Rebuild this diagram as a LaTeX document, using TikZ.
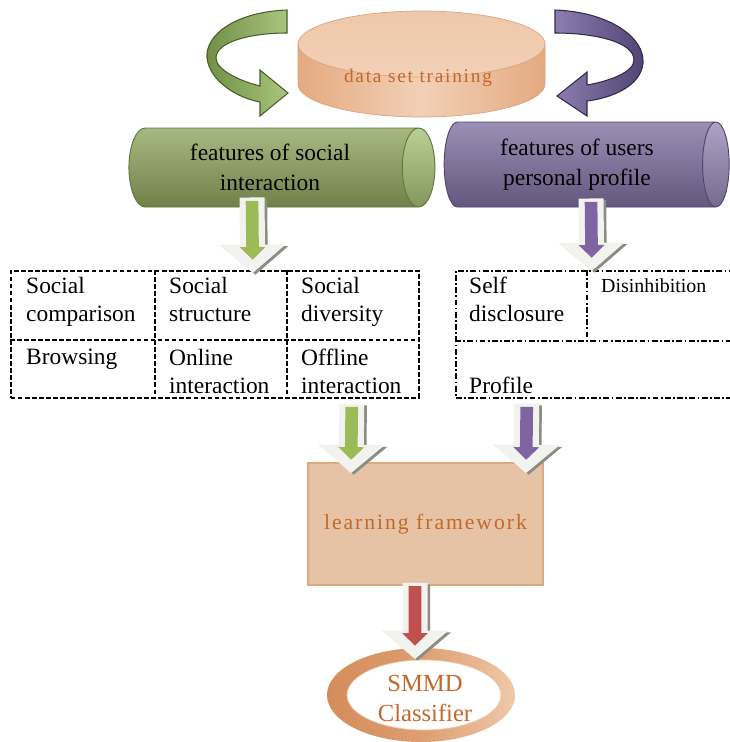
\documentclass[tikz,border=0pt]{standalone}
\usepackage{fontspec}
\setmainfont{Liberation Serif}
\newfontfamily\trackedserif[LetterSpace=9]{Liberation Serif}
\usetikzlibrary{shapes.geometric,arrows.meta,positioning}

\definecolor{gbody}{RGB}{143,166,94}
\definecolor{gend}{RGB}{168,194,120}
\definecolor{gedge}{RGB}{95,120,60}
\definecolor{pbody}{RGB}{128,112,162}
\definecolor{pend}{RGB}{152,137,182}
\definecolor{pedge}{RGB}{82,70,112}
\definecolor{bendgreendark}{RGB}{112,142,70}
\definecolor{bendgreenlight}{RGB}{170,198,126}
\definecolor{bendgreenline}{RGB}{70,95,40}
\definecolor{bendpurplelight}{RGB}{140,126,176}
\definecolor{bendpurpledark}{RGB}{80,68,115}
\definecolor{bendpurpleline}{RGB}{50,42,75}
\definecolor{arrgreen}{RGB}{155,187,89}
\definecolor{arrpurple}{RGB}{128,100,162}
\definecolor{arrred}{RGB}{192,80,77}
\definecolor{hollow}{RGB}{242,242,238}
\definecolor{hshadow}{RGB}{140,140,130}
\definecolor{diskside}{RGB}{228,170,128}
\definecolor{disklight}{RGB}{242,208,182}
\definecolor{disktop}{RGB}{238,200,170}
\definecolor{diskedge}{RGB}{218,165,128}
\definecolor{boxfill}{RGB}{230,195,165}
\definecolor{boxedge}{RGB}{222,170,130}
\definecolor{ringdark}{RGB}{212,140,90}
\definecolor{ringlight}{RGB}{240,200,168}
\definecolor{txtbrown}{RGB}{196,104,44}

\tikzstyle{feature} = [cylinder, cylinder uses custom fill, line width=0.8pt,
  align=center, text=black, font=\fontsize{20}{25.5}\selectfont,
  path picture={\shade[top color=white, bottom color=black, fill opacity=0.22]
    (path picture bounding box.north west) rectangle (path picture bounding box.south east);}]
\tikzstyle{cell} = [anchor=north west, align=left, inner sep=0pt, font=\fontsize{20}{24}\selectfont]
\tikzstyle{grid} = [draw, line width=1.3pt, inner sep=0pt, anchor=north west]
\tikzstyle{social dash} = [dash pattern=on 4pt off 2pt, line width=1.3pt]
\tikzstyle{profile dash} = [dash pattern=on 5pt off 2pt on 1.5pt off 2pt, line width=1.3pt]
\tikzset{
  hollow arrow/.style={
    -{Triangle[width=1.95cm,length=0.85cm]}, line width=0.75cm, draw=hollow,
    preaction={draw=hshadow, -{Triangle[width=1.95cm,length=0.85cm]}, line width=0.75cm,
               transform canvas={shift={(0.08cm,-0.05cm)}}}, % shadow
    postaction={draw=#1, -{Triangle[width=0.75cm,length=0.38cm]}, line width=0.38cm,
                shorten <=0.1cm, shorten >=0.4cm}, % coloured core
  }
}

\begin{document}
\begin{tikzpicture}[x=0.03cm,y=0.03cm]
  \useasboundingbox (0,0) rectangle (730,-742);

  %%%%%%%%%%%%%%%%%%%%%%%%%%%%%%%%%%%%%%%%%%%%%%%%%%%%%%%%%%%%%%
  %                    DATA SET TRAINING                       %
  %%%%%%%%%%%%%%%%%%%%%%%%%%%%%%%%%%%%%%%%%%%%%%%%%%%%%%%%%%%%%%

  \shade[left color=diskside, right color=diskside, middle color=disklight, draw=diskedge, line width=0.6pt]
    (298,-44) -- (298,-84) arc[start angle=180, end angle=360, x radius=3.705cm, y radius=0.99cm]
    -- (545,-44) -- cycle;
  \shade[top color=disktop, bottom color=disklight, draw=diskedge, line width=0.6pt]
    (421.5,-44) ellipse [x radius=3.705cm, y radius=0.99cm];
  \node[font=\trackedserif\fontsize{16.5}{19}\selectfont, text=txtbrown] (data-set) at (418,-78) {data set training};

  % curved arrows round the data set
  \shade[left color=bendgreendark, right color=bendgreenlight, draw=bendgreenline, line width=0.9pt]
    (287,-10) .. controls (235,-12) and (205,-35) .. (207,-58)
    .. controls (210,-82) and (238,-98) .. (260,-102)
    -- (260,-116) -- (288,-93) -- (260,-70) -- (260,-86)
    .. controls (240,-81) and (216,-70) .. (216,-58)
    .. controls (216,-42) and (250,-33) .. (287,-33) -- cycle;
  \shade[left color=bendpurplelight, right color=bendpurpledark, draw=bendpurpleline, line width=0.9pt]
    (555,-10) .. controls (610,-12) and (645,-38) .. (643,-63)
    .. controls (641,-86) and (612,-98) .. (587,-101)
    -- (587,-116) -- (557,-96) -- (587,-72) -- (587,-85)
    .. controls (610,-81) and (634,-72) .. (634,-60)
    .. controls (634,-42) and (595,-33) .. (555,-33) -- cycle;

  %%%%%%%%%%%%%%%%%%%%%%%%%%%%%%%%%%%%%%%%%%%%%%%%%%%%%%%%%%%%%%
  %                    FEATURE CYLINDERS                       %
  %%%%%%%%%%%%%%%%%%%%%%%%%%%%%%%%%%%%%%%%%%%%%%%%%%%%%%%%%%%%%%

  \node[feature, draw=gedge, cylinder body fill=gbody, cylinder end fill=gend,
    aspect=0.6, minimum height=9.18cm, minimum width=2.37cm] (social-features) at (270,-167.5)
    {features of social\\interaction};
  \node[feature, draw=pedge, cylinder body fill=pbody, cylinder end fill=pend,
    aspect=0.45, minimum height=8.55cm, minimum width=2.55cm] (profile-features) at (577,-164.5)
    {features of users\\personal profile};

  %%%%%%%%%%%%%%%%%%%%%%%%%%%%%%%%%%%%%%%%%%%%%%%%%%%%%%%%%%%%%%
  %                    FEATURE TABLES                          %
  %%%%%%%%%%%%%%%%%%%%%%%%%%%%%%%%%%%%%%%%%%%%%%%%%%%%%%%%%%%%%%

  \node[grid, social dash, minimum width=12.24cm, minimum height=3.81cm] (social-grid) at (10,-270) {};
  \draw[social dash] (10,-340) -- (418,-340);
  \draw[social dash] (155,-270) -- (155,-397);
  \draw[social dash] (287,-270) -- (287,-397);

  \node[cell] (comparison) at (26,-277) {Social\\comparison};
  \node[cell] (structure) at (169,-277) {Social\\structure};
  \node[cell] (diversity) at (301,-277) {Social\\diversity};
  \node[cell] (browsing) at (26,-349) {Browsing};
  \node[cell] (online) at (169,-349) {Online\\interaction};
  \node[cell] (offline) at (301,-349) {Offline\\interaction};

  \node[grid, profile dash, minimum width=8.55cm, minimum height=3.81cm] (profile-grid) at (455,-270) {};
  \draw[profile dash] (455,-341) -- (740,-341);
  \draw[profile dash] (587,-270) -- (587,-341);

  \node[cell] (disclosure) at (469,-277) {Self\\disclosure};
  \node[cell, font=\fontsize{17}{20}\selectfont] (disinhibition) at (601,-278) {Disinhibition};
  \node[cell] (profile) at (469,-377) {Profile};

  %%%%%%%%%%%%%%%%%%%%%%%%%%%%%%%%%%%%%%%%%%%%%%%%%%%%%%%%%%%%%%
  %                    LEARNING AND CLASSIFIER                 %
  %%%%%%%%%%%%%%%%%%%%%%%%%%%%%%%%%%%%%%%%%%%%%%%%%%%%%%%%%%%%%%

  \node[rectangle, fill=boxfill, draw=boxedge, line width=1.5pt,
    minimum width=7.05cm, minimum height=3.66cm,
    font=\trackedserif\fontsize{18.5}{22}\selectfont, text=txtbrown] (learning-framework) at (425.5,-524)
    {learning framework};

  \shade[left color=ringdark, right color=ringlight, middle color=ringdark!70!ringlight]
    (421,-695) ellipse [x radius=2.82cm, y radius=1.41cm];
  \fill[white, draw=ringlight, line width=0.6pt] (424,-695) ellipse [x radius=2.31cm, y radius=1.05cm];
  \node[align=center, inner sep=0pt, font=\fontsize{21}{25.6}\selectfont, text=txtbrown]
    (smmd-classifier) at (425,-698) {SMMD\\Classifier};
  \coordinate (classifier-top) at (415,-659);

  % hollow arrows
  \draw[hollow arrow=arrgreen] ([xshift=-0.54cm,yshift=0.3cm]social-features.south)
    -- ([xshift=1.14cm,yshift=-0.09cm]social-grid.north);
  \draw[hollow arrow=arrpurple] ([xshift=0.42cm,yshift=0.27cm]profile-features.south)
    -- ([xshift=-0.195cm,yshift=-0.03cm]profile-grid.north);
  \draw[hollow arrow=arrgreen] ([xshift=4.11cm,yshift=-0.15cm]social-grid.south)
    -- ([xshift=-2.235cm,yshift=-0.33cm]learning-framework.north);
  \draw[hollow arrow=arrpurple] ([xshift=-2.145cm,yshift=-0.15cm]profile-grid.south)
    -- ([xshift=3.015cm,yshift=-0.33cm]learning-framework.north);
  \draw[hollow arrow=arrred] ([xshift=-0.315cm,yshift=0.09cm]learning-framework.south)
    -- (classifier-top);

\end{tikzpicture}
\end{document}
